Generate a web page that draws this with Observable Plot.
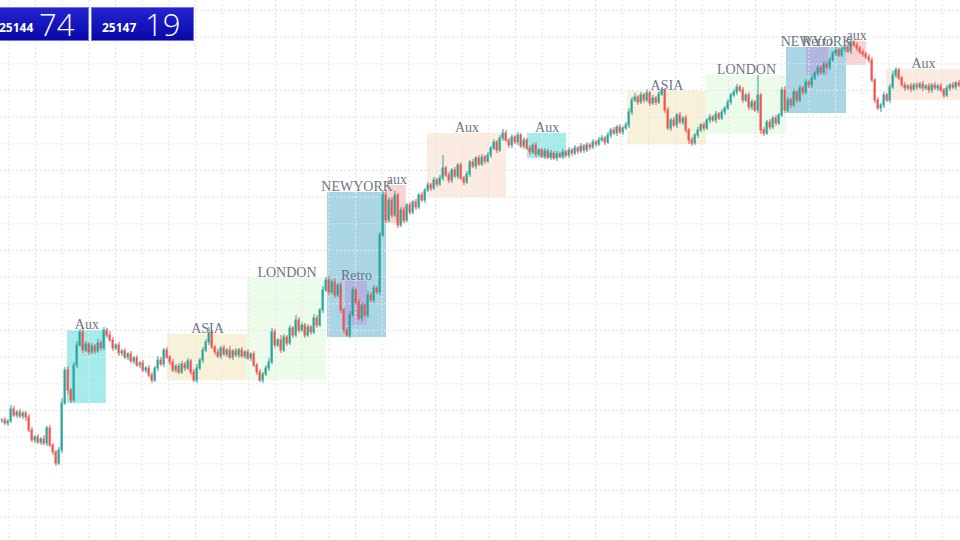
<!DOCTYPE html>
<html>
<head>
<meta charset="utf-8">
<script src="https://cdn.jsdelivr.net/npm/d3@7"></script>
<script src="https://cdn.jsdelivr.net/npm/@observablehq/plot@0.6"></script>
<style>
  html, body { margin: 0; padding: 0; background: #fff; }
  #wrap { position: relative; width: 960px; height: 540px; overflow: hidden; }
  .tag { position: absolute; top: 7px; height: 34px; box-sizing: border-box;
         background: linear-gradient(#2424d2, #0808a8); border: 1px solid #6f78d8;
         color: #fff; font-family: "Open Sans", "Noto Sans", sans-serif; white-space: nowrap; }
  .tag .s { position: absolute; bottom: 4px; font-size: 12px; font-weight: 700; }
  .tag .b { position: absolute; top: -5px; font-size: 31px; font-weight: 300; }
</style>
</head>
<body>
<div id="wrap"></div>
<script>
const base = 25100;            // price base
const open0 = 120;             // first open, tenths of a point above base
// closes, in tenths of a point above base
const closes = [
 120,117,119,131,125,128,124,127,123,110,
 100,103,98,101,97,112,95,88,77,90,
 137,170,150,140,175,195,208,190,196,188,
 194,189,197,192,210,205,200,192,195,187,
 189,183,186,179,182,175,177,170,172,165,
 160,172,180,176,190,183,178,170,174,168,
 176,172,179,168,160,172,180,190,198,207,
 193,188,184,192,186,190,183,189,185,190,
 184,188,182,186,175,168,160,166,172,178,
 208,195,200,190,203,197,212,205,220,210,
 215,205,213,208,222,215,230,250,260,248,
 258,245,255,230,210,205,225,250,238,222,
 235,225,245,240,252,248,305,345,320,340,
 325,345,315,330,320,335,328,338,333,345,
 340,350,355,352,360,356,362,372,365,360,
 370,364,375,362,358,366,378,374,382,376,
 383,379,385,392,398,390,402,407,400,395,
 403,398,405,394,400,392,388,395,386,390,
 384,389,383,387,382,386,384,388,385,390,
 387,392,389,394,390,395,393,398,396,400,
 402,398,405,410,407,413,408,412,415,428,
 440,443,438,445,440,447,437,442,438,446,
 450,430,412,420,415,425,418,422,410,400,
 397,405,410,415,412,420,423,420,426,422,
 428,432,438,445,448,453,450,440,445,433,
 438,430,445,410,407,418,413,422,417,425,
 450,430,440,435,448,440,452,448,458,455,
 462,467,472,468,476,473,480,487,490,485,
 491,493,489,498,495,492,488,486,483,480,
 460,440,432,435,445,440,453,465,470,462,
 455,452,454,451,455,453,456,452,454,450,
 455,452,454,450,445,452,455,453,457,455
];
const wickUp = [
 2,3,2,4,3,2,3,2,2,3, 3,2,3,2,4,2,3,2,2,3, 5,3,4,2,3,4,3,5,3,2, 3,2,4,3,3,2,4,3,2,3,
 2,3,2,3,2,3,2,3,2,3, 3,2,4,3,2,3,2,3,2,3, 3,2,3,2,3,4,2,3,3,6, 3,2,3,2,3,2,4,2,3,2,
 3,2,3,2,3,2,3,2,3,4, 4,3,2,5,3,2,3,2,5,3, 3,2,3,2,4,3,2,4,3,4, 3,4,2,3,2,3,4,3,2,3,
 3,2,4,3,3,2,3,4,5,3, 3,4,2,3,3,2,3,2,3,2, 3,2,3,2,3,2,3,13,2,3, 2,3,2,3,2,3,2,3,2,3,
 3,2,3,2,3,2,3,4,3,2, 3,2,3,2,3,2,3,2,3,2, 2,3,2,3,2,3,2,3,2,3, 2,3,2,3,2,3,2,3,2,3,
 3,2,3,2,3,2,3,2,3,4, 3,4,2,3,2,4,2,3,2,3, 3,2,3,2,3,2,3,2,3,2, 3,2,3,2,3,2,3,2,3,2,
 3,2,3,2,3,3,2,3,2,3, 3,2,20,2,3,2,3,2,3,2, 3,4,3,2,3,2,3,2,3,2, 3,2,3,2,3,2,3,2,3,2,
 3,2,3,3,2,3,2,3,2,3, 3,2,3,2,3,2,3,4,3,2, 2,3,2,3,2,3,2,3,2,3, 2,3,2,3,2,3,2,3,2,3
];
const wickDown = [
 3,2,3,2,2,3,2,3,4,2, 2,3,2,3,2,3,2,3,3,2, 3,2,4,3,2,3,2,3,2,3, 2,3,2,3,2,3,2,3,2,3,
 3,2,3,2,3,2,3,2,3,2, 3,2,3,2,3,2,3,2,3,2, 2,3,2,3,2,3,2,3,2,3, 2,3,2,3,2,3,2,3,2,3,
 2,3,2,3,2,3,2,3,2,3, 2,3,2,3,2,3,2,3,2,3, 2,3,2,3,2,3,2,3,2,3, 2,3,2,3,3,2,3,2,3,2,
 3,2,3,2,3,2,3,2,3,2, 3,2,3,2,3,2,3,2,3,2, 2,3,2,3,2,3,2,3,2,3, 3,2,3,2,3,2,3,2,3,2,
 2,3,2,3,2,3,2,3,2,3, 3,2,3,2,3,2,3,2,3,2, 2,3,2,3,2,3,2,3,2,3, 3,2,3,2,3,2,3,2,3,2,
 2,3,2,3,2,3,2,3,2,3, 3,2,3,2,3,2,3,2,3,2, 2,3,2,3,2,3,2,3,3,4, 3,2,3,2,3,2,3,2,3,2,
 2,3,2,3,2,3,2,3,2,3, 3,2,3,4,3,2,3,2,3,2, 2,3,2,3,2,3,2,3,2,3, 3,2,3,2,3,2,3,2,3,2,
 2,3,2,3,2,3,2,3,2,3, 2,3,2,4,3,2,3,2,3,2, 2,3,2,3,2,3,2,3,2,3, 3,2,3,2,3,2,3,2,3,2
];
// session boxes: candle index start/end, top/bottom in tenths above base
const sessionNames = ["Aux","ASIA","LONDON","NEWYORK","Retro","aux","Aux","Aux","ASIA","LONDON","NEWYORK","Retro","aux","Aux"];
const sessionKinds = ["auxC","asia","london","ny","retro","auxP","auxO","auxC","asia","london","ny","retro","auxP","auxO"];
const sessionStart = [22.3, 55.7, 82.3, 109, 115, 129, 142.3, 175.7, 209, 235.3, 262, 268.7, 282, 295.3];
const sessionEnd   = [35.3, 82.3, 108.7, 128.7, 122.3, 135.3, 168.7, 188.7, 235.3, 262, 282, 276, 288.7, 320];
const sessionTop   = [210, 206, 262, 348, 259, 355, 407, 407, 449, 465, 493, 493, 499, 471];
const sessionBot   = [137, 160, 160, 203, 215, 317, 343, 382, 396, 406, 427, 465, 475, 440];
const kindColors = {auxC:"#a6ebeb", asia:"#f6f1d8", london:"#ecfbea", ny:"#a9d5e4", retro:"#b3b4e0", auxP:"#f8d3d3", auxO:"#fbebe0"};
const tagSmall = ["25144","25147"];
const tagBig = ["74","19"];

const P = v => base + v / 10;
const candles = closes.map((c, i) => {
  const o = i ? closes[i - 1] : open0;
  return {i, open: P(o), close: P(c), high: P(Math.max(o, c) + wickUp[i]), low: P(Math.min(o, c) - wickDown[i]), up: c >= o};
});
const sessions = sessionNames.map((n, k) => ({name: n, kind: sessionKinds[k], x1: sessionStart[k], x2: sessionEnd[k], top: P(sessionTop[k]), bot: P(sessionBot[k])}));

const gridX = d3.range(2.778, 320, 8.889);
const gridY = d3.range(P(530), P(0), -2.6667);
const up = "#26a69a", down = "#ef5350";

const chart = Plot.plot({
  width: 960, height: 540,
  marginTop: 0, marginRight: 0, marginBottom: 0, marginLeft: 0,
  x: {domain: [0, 320], axis: null},
  y: {domain: [P(0), P(540)], axis: null},
  style: {background: "#fff"},
  marks: [
    Plot.rect(sessions, {x1: "x1", x2: "x2", y1: "bot", y2: "top", fill: d => kindColors[d.kind]}),
    Plot.ruleX(gridX, {stroke: "#e3e4e8", strokeWidth: 1, strokeDasharray: "2,2"}),
    Plot.ruleY(gridY, {stroke: "#e3e4e8", strokeWidth: 1, strokeDasharray: "2,2"}),
    Plot.ruleX(candles, {x: d => d.i + 0.5, y1: "low", y2: "high", stroke: d => d.up ? up : down, strokeWidth: 1}),
    Plot.rect(candles, {x1: d => d.i + 0.17, x2: d => d.i + 0.83, y1: d => Math.min(d.open, d.close) - 0.05, y2: d => Math.max(d.open, d.close) + 0.05, fill: d => d.up ? up : down}),
    Plot.text(sessions, {x: d => (d.x1 + d.x2) / 2, y: "top", text: "name", dy: -2, lineAnchor: "bottom",
      fill: "#6f7482", fontSize: 14, fontFamily: "Liberation Serif, serif"})
  ]
});
const wrap = document.getElementById("wrap");
wrap.appendChild(chart);
const lefts = [-12, 91], widths = [101, 103];
tagSmall.forEach((s, k) => {
  const d = document.createElement("div");
  d.className = "tag";
  d.style.left = lefts[k] + "px";
  d.style.width = widths[k] + "px";
  d.innerHTML = `<span class="s" style="left:10px">${s}</span><span class="b" style="left:${k ? 53 : 50}px">${tagBig[k]}</span>`;
  wrap.appendChild(d);
});
</script>
</body>
</html>
